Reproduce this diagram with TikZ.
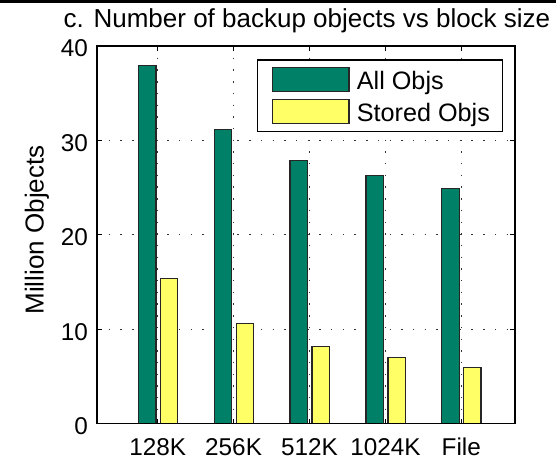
\documentclass[tikz,border=0pt]{standalone}
\usepackage{fontspec}
\setmainfont{Liberation Sans}
\definecolor{allobj}{HTML}{008066}
\definecolor{storedobj}{HTML}{FFFF66}
\begin{document}
\begin{tikzpicture}[x=1pt,y=-1pt,
  lbl/.style={font=\fontsize{24.3}{28}\selectfont, inner sep=0pt},
  biglbl/.style={font=\fontsize{26}{30}\selectfont, inner sep=0pt},
  leglbl/.style={font=\fontsize{25.2}{30}\selectfont, inner sep=0pt},
  gridline/.style={line width=1pt, dash pattern=on 1.4pt off 10.3pt, black!80},
  axisline/.style={line width=1.3pt, black},
  tickmark/.style={line width=1pt, black},
  barA/.style={fill=allobj, draw=black!85, line width=1.2pt},
  barS/.style={fill=storedobj, draw=black!85, line width=1.2pt}]
\useasboundingbox (0,0) rectangle (556,459);
% thin dark band along the top edge
\fill[black] (0,0) rectangle (556,3);

% axes geometry: 0..40 maps to y = 423.5 .. 46
\def\yb{423.5}
\def\ys{9.4375}

% dotted grid (drawn beneath the bars)
\foreach \v in {10,20,30}
  \draw[gridline] (97,{\yb-\ys*\v}) -- (515,{\yb-\ys*\v});
\foreach \i in {0,...,4}
  \draw[gridline] ({157.7+75.9*\i},46) -- ({157.7+75.9*\i},\yb);

% bars: all objects / stored objects
\foreach \g/\s [count=\i from 0] in {37.9/15.4, 31.13/10.57, 27.85/8.18, 26.25/6.97, 24.87/5.95} {
  \pgfmathsetmacro{\xc}{157.7+75.9*\i}
  \draw[barA] ({\xc-19.5},\yb) rectangle ({\xc-1.8},{\yb-\ys*\g});
  \draw[barS] ({\xc+2.5},\yb) rectangle ({\xc+19.7},{\yb-\ys*\s});
}

% axes box and tick marks
\draw[axisline] (97,46) rectangle (515,\yb);
\foreach \i in {0,...,4} {
  \draw[tickmark] ({157.7+75.9*\i},\yb) -- ++(0,-5);
  \draw[tickmark] ({157.7+75.9*\i},46) -- ++(0,5);
}
\foreach \v in {0,10,20,30,40} {
  \draw[tickmark] (97,{\yb-\ys*\v}) -- ++(5,0);
  \draw[tickmark] (515,{\yb-\ys*\v}) -- ++(-5,0);
}

% y tick labels
\foreach \v in {0,10,20,30,40}
  \node[lbl, anchor=east] (yl\v) at (88,{\yb-\ys*\v+2.5}) {\v};

% x tick labels
\foreach \t [count=\i from 0] in {128K,256K,512K,1024K,File}
  \node[lbl, anchor=base] (xl\i) at ({157.7+75.9*\i},455) {\t};

% axis label and title
\node[biglbl, rotate=90, anchor=base] (ylabel) at (43.5,230) {Million Objects};
\node[biglbl, anchor=base] (title) at (307,27.5) {c. Number of backup objects vs block size};

% legend
\draw[line width=1.2pt, fill=white] (257.7,60) rectangle (502.3,131.3);
\draw[barA] (272.3,67.3) rectangle (349,91.7);
\draw[barS] (272.3,99.7) rectangle (349,123.7);
\node[leglbl, anchor=base west] (legA) at (356.7,89) {All Objs};
\node[leglbl, anchor=base west] (legS) at (356.7,121) {Stored Objs};
\end{tikzpicture}
\end{document}
